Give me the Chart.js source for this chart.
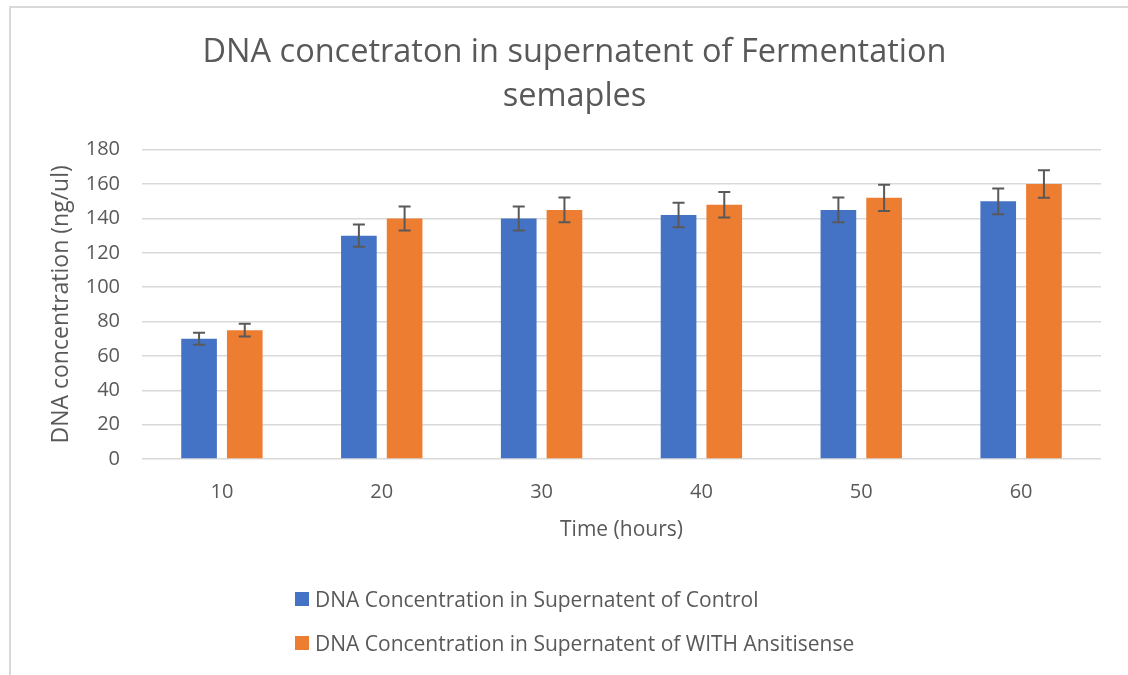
<!DOCTYPE html>
<html>
<head>
<meta charset="utf-8">
<title>DNA concentration chart</title>
<script src="https://cdn.jsdelivr.net/npm/chart.js@4.4.0/dist/chart.umd.min.js"></script>
<style>
    body { margin: 0; background: #fff; font-family: "Open Sans", sans-serif; }
    #wrap { position: relative; width: 1128px; height: 675px; }
    #frame { position: absolute; left: 9px; top: 6px; right: -4px; bottom: -4px; border: 2px solid #d9d9d9; }
    #legend { position: absolute; left: 295px; top: 586px; color: #595959; font-size: 21px; }
    .item { display: flex; align-items: center; height: 26px; margin-bottom: 18px; white-space: nowrap; }
    .swatch { width: 14px; height: 14px; margin-right: 6px; }
</style>
</head>
<body>
<div id="wrap">
    <div id="frame"></div>
    <canvas id="dnaChart" width="1128" height="675"></canvas>
    <div id="legend"></div>
</div>
<script>
// Sampling times and measured concentrations
const timeLabels = ['10', '20', '30', '40', '50', '60'];
const controlValues = [70, 130, 140, 142, 145, 150];
const antisenseValues = [75, 140, 145, 148, 152, 160];
const controlErrors = [3.5, 6.5, 7, 7.1, 7.25, 7.5];
const antisenseErrors = [3.75, 7, 7.25, 7.4, 7.6, 8];
const yTicks = [0, 20, 40, 60, 80, 100, 120, 140, 160, 180];

const textColor = '#595959';
const gridColor = '#d9d9d9';

// Draw +/- error whiskers on top of each bar
const errorBars = {
    id: 'errorBars',
    afterDatasetsDraw(chart) {
        const ctx = chart.ctx;
        const yScale = chart.scales.y;
        ctx.save();
        ctx.strokeStyle = '#595959';
        ctx.lineWidth = 2;
        chart.data.datasets.forEach((ds, di) => {
            const meta = chart.getDatasetMeta(di);
            meta.data.forEach((bar, i) => {
                const err = ds.errors[i];
                const top = yScale.getPixelForValue(ds.data[i] + err);
                const bottom = yScale.getPixelForValue(ds.data[i] - err);
                ctx.beginPath();
                ctx.moveTo(bar.x, top);
                ctx.lineTo(bar.x, bottom);
                ctx.moveTo(bar.x - 6, top);
                ctx.lineTo(bar.x + 6, top);
                ctx.moveTo(bar.x - 6, bottom);
                ctx.lineTo(bar.x + 6, bottom);
                ctx.stroke();
            });
        });
        ctx.restore();
    }
};

const chart = new Chart(document.getElementById('dnaChart'), {
    type: 'bar',
    data: {
        labels: timeLabels,
        datasets: [{
            label: 'DNA Concentration in Supernatent of Control',
            data: controlValues,
            errors: controlErrors,
            backgroundColor: '#4472c4',
            barPercentage: 0.78,
            categoryPercentage: 0.572
        }, {
            label: 'DNA Concentration in Supernatent of WITH Ansitisense',
            data: antisenseValues,
            errors: antisenseErrors,
            backgroundColor: '#ed7d31',
            barPercentage: 0.78,
            categoryPercentage: 0.572
        }]
    },
    options: {
        responsive: false,
        animation: false,
        layout: { padding: { top: 31, left: 48, right: 27, bottom: 132 } },
        plugins: {
            legend: { display: false },
            tooltip: { enabled: false },
            title: {
                display: true,
                text: ['DNA concetraton in supernatent of Fermentation', 'semaples'],
                color: textColor,
                font: { family: 'Open Sans', size: 32.5, weight: 'normal', lineHeight: 1.35 },
                padding: { top: 0, bottom: 31 }
            }
        },
        scales: {
            x: {
                afterFit: axis => { axis.height = 84; },
                grid: { display: false },
                border: { display: false },
                ticks: { color: textColor, font: { family: 'Open Sans', size: 20 }, padding: 13 },
                title: {
                    display: true,
                    text: 'Time (hours)',
                    color: textColor,
                    font: { family: 'Open Sans', size: 21 },
                    padding: { top: 0, bottom: 0 }
                }
            },
            y: {
                min: 0,
                max: 180,
                afterFit: axis => { axis.width = 94; },
                afterBuildTicks: axis => { axis.ticks = yTicks.map(v => ({ value: v })); },
                grid: { color: gridColor, lineWidth: 1.5, drawTicks: false },
                border: { display: false },
                ticks: { color: textColor, font: { family: 'Open Sans', size: 20 }, padding: 22 },
                title: {
                    display: true,
                    text: 'DNA concentration (ng/ul)',
                    color: textColor,
                    font: { family: 'Open Sans', size: 23 },
                    padding: { top: 0, bottom: 0 }
                }
            }
        }
    },
    plugins: [errorBars]
});

// Build the legend from the chart's datasets
const legend = document.getElementById('legend');
chart.data.datasets.forEach(ds => {
    const item = document.createElement('div');
    item.className = 'item';
    item.innerHTML = `<span class="swatch" style="background:${ds.backgroundColor}"></span><span>${ds.label}</span>`;
    legend.appendChild(item);
});
</script>
</body>
</html>
